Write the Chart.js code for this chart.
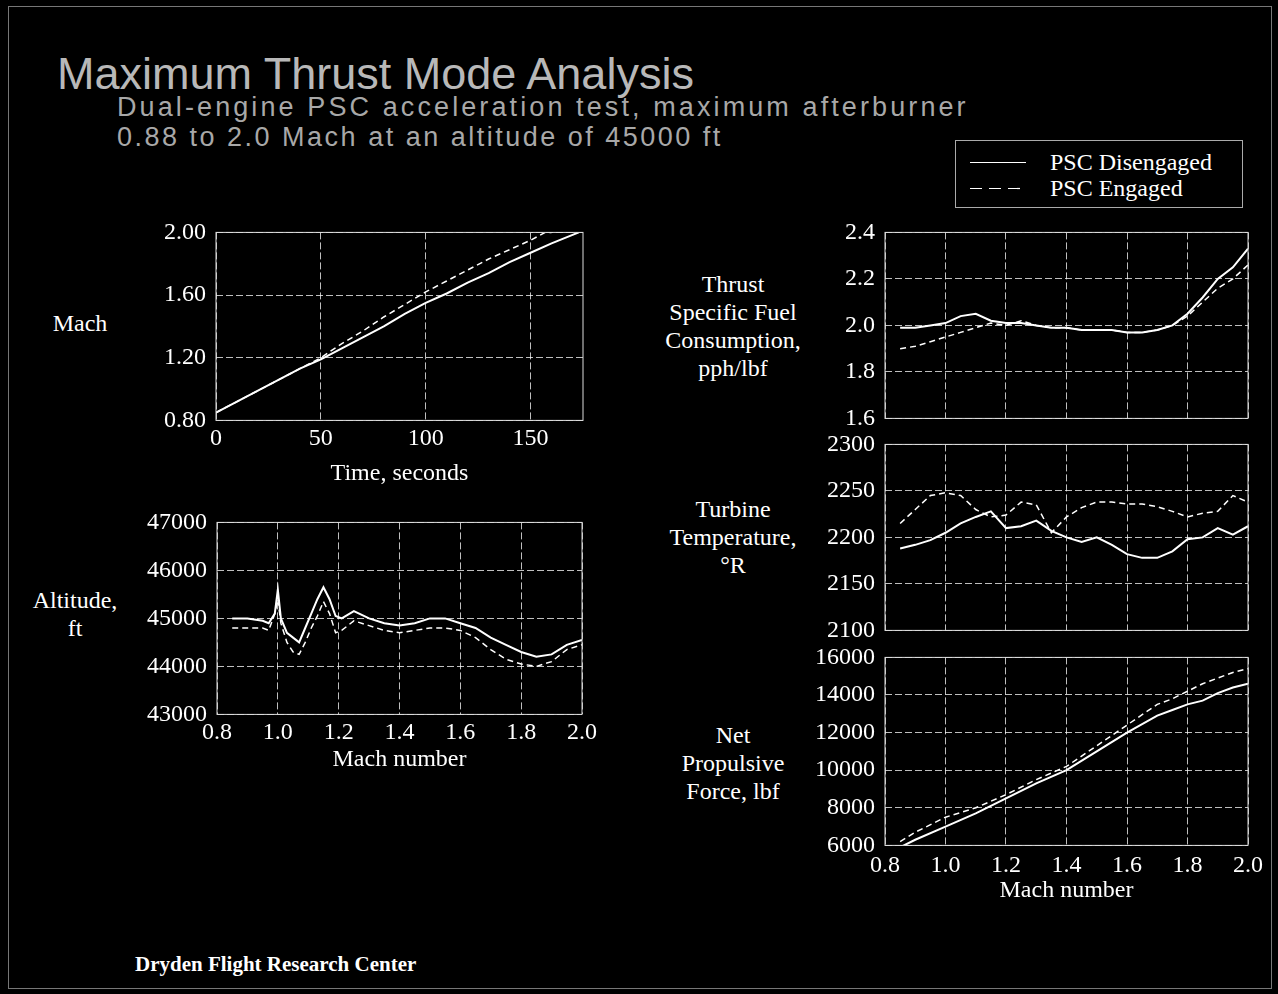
<!DOCTYPE html>
<html>
<head>
<meta charset="utf-8">
<script src="https://cdn.jsdelivr.net/npm/chart.js"></script>
<style>
  body { margin: 0; background: #000; width: 1278px; height: 994px; overflow: hidden; position: relative; }
  .frame { position: absolute; left: 8px; top: 6px; width: 1264px; height: 983px; border: 1px solid #777; box-sizing: border-box; }
  .title { position: absolute; left: 57px; top: 48px; font: 45px 'Liberation Sans', sans-serif; color: #b8b8b8; white-space: nowrap; }
  .sub { position: absolute; left: 117px; font: 27px 'Liberation Sans', sans-serif; color: #a8a8a8; white-space: nowrap; }
  .lbl { position: absolute; font: 24px 'Liberation Serif', serif; color: #fff; text-align: center; line-height: 28px; white-space: nowrap; transform: translateX(-50%); }
  .box { position: absolute; }
  .legend { position: absolute; left: 955px; top: 140px; width: 288px; height: 68px; border: 1px solid #aaa; box-sizing: border-box; }
  .legend .row { position: absolute; left: 14px; height: 26px; font: 24px 'Liberation Serif', serif; color: #fff; white-space: nowrap; }
  .legend svg { position: absolute; left: 0; top: 12px; }
  .legend .tx { position: absolute; left: 80px; top: 0; }
  .footer { position: absolute; left: 135px; top: 952px; font: bold 21px 'Liberation Serif', serif; color: #fff; }
</style>
</head>
<body>
<div class="frame"></div>
<div class="title">Maximum Thrust Mode Analysis</div>
<div class="sub" style="top:92px;letter-spacing:3.1px">Dual-engine PSC acceleration test, maximum afterburner</div>
<div class="sub" style="top:122px;letter-spacing:2.5px">0.88 to 2.0 Mach at an altitude of 45000 ft</div>

<div class="legend">
  <div class="row" style="top:8px"><svg width="56" height="3"><line x1="0" y1="1.5" x2="56" y2="1.5" stroke="#fff" stroke-width="1.2"/></svg><div class="tx">PSC Disengaged</div></div>
  <div class="row" style="top:34px"><svg width="56" height="3"><line x1="0" y1="1.5" x2="56" y2="1.5" stroke="#fff" stroke-width="1.2" stroke-dasharray="12 7"/></svg><div class="tx">PSC Engaged</div></div>
</div>

<div class="lbl" style="left:80px;top:309px">Mach</div>
<div class="lbl" style="left:75px;top:586px">Altitude,<br>ft</div>
<div class="lbl" style="left:733px;top:270px">Thrust<br>Specific Fuel<br>Consumption,<br>pph/lbf</div>
<div class="lbl" style="left:733px;top:495px">Turbine<br>Temperature,<br>°R</div>
<div class="lbl" style="left:733px;top:721px">Net<br>Propulsive<br>Force, lbf</div>

<div class="box" id="b1"><canvas id="c1"></canvas></div>
<div class="box" id="b2"><canvas id="c2"></canvas></div>
<div class="box" id="b3"><canvas id="c3"></canvas></div>
<div class="box" id="b4"><canvas id="c4"></canvas></div>
<div class="box" id="b5"><canvas id="c5"></canvas></div>

<div class="footer">Dryden Flight Research Center</div>

<script>
// Mach vs time
const timeDis = [0, 10, 20, 30, 40, 50, 60, 70, 80, 90, 100, 110, 120, 130, 140, 150, 160, 173];
const machDis = [0.85, 0.92, 0.99, 1.06, 1.13, 1.19, 1.26, 1.33, 1.40, 1.48, 1.55, 1.61, 1.68, 1.74, 1.81, 1.87, 1.93, 2.00];
const timeEng = [0, 10, 20, 30, 40, 50, 60, 70, 80, 90, 100, 110, 120, 130, 140, 150, 157, 160];
const machEng = [0.85, 0.92, 0.99, 1.06, 1.13, 1.20, 1.29, 1.37, 1.46, 1.54, 1.62, 1.69, 1.76, 1.83, 1.89, 1.95, 2.00, 2.00];
const timeTicks = [0, 50, 100, 150];

// Altitude vs Mach
const machAlt = [0.85, 0.9, 0.95, 0.97, 0.99, 1.0, 1.01, 1.03, 1.05, 1.07, 1.09, 1.11, 1.13, 1.15, 1.17, 1.19, 1.21, 1.25, 1.3, 1.35, 1.4, 1.45, 1.5, 1.55, 1.6, 1.65, 1.7, 1.75, 1.8, 1.85, 1.9, 1.95, 2.0];
const altDis = [45000, 45000, 44950, 44900, 45100, 45600, 45000, 44700, 44600, 44500, 44800, 45100, 45400, 45650, 45400, 45050, 45000, 45150, 45000, 44900, 44850, 44900, 45000, 45000, 44900, 44800, 44600, 44450, 44300, 44200, 44250, 44450, 44550];
const altEng = [44800, 44800, 44800, 44750, 45100, 45400, 44900, 44500, 44300, 44250, 44500, 44800, 45050, 45350, 45100, 44700, 44750, 44950, 44850, 44750, 44700, 44750, 44800, 44800, 44750, 44600, 44350, 44150, 44050, 44000, 44100, 44350, 44450];

// TSFC and turbine temperature vs Mach
const machT = [0.85, 0.9, 0.95, 1.0, 1.05, 1.1, 1.15, 1.2, 1.25, 1.3, 1.35, 1.4, 1.45, 1.5, 1.55, 1.6, 1.65, 1.7, 1.75, 1.8, 1.85, 1.9, 1.95, 2.0];
const tsfcDis = [1.99, 1.99, 2.00, 2.01, 2.04, 2.05, 2.02, 2.01, 2.01, 2.00, 1.99, 1.99, 1.98, 1.98, 1.98, 1.97, 1.97, 1.98, 2.00, 2.05, 2.12, 2.20, 2.25, 2.33];
const tsfcEng = [1.90, 1.91, 1.93, 1.95, 1.97, 1.99, 2.01, 2.00, 2.02, 2.00, 1.99, 1.99, 1.98, 1.98, 1.98, 1.97, 1.97, 1.98, 2.00, 2.04, 2.10, 2.16, 2.20, 2.26];
const ttDis = [2188, 2192, 2197, 2205, 2215, 2222, 2228, 2210, 2212, 2218, 2207, 2200, 2195, 2200, 2192, 2182, 2178, 2178, 2185, 2198, 2200, 2210, 2203, 2212];
const ttEng = [2215, 2230, 2245, 2248, 2245, 2230, 2222, 2224, 2238, 2235, 2205, 2222, 2232, 2238, 2238, 2236, 2236, 2233, 2228, 2222, 2226, 2228, 2245, 2238];

// Net propulsive force vs Mach
const machF = [0.85, 0.9, 1.0, 1.1, 1.2, 1.3, 1.4, 1.5, 1.6, 1.7, 1.75, 1.8, 1.85, 1.9, 1.95, 2.0];
const forceDis = [5900, 6300, 7000, 7700, 8500, 9300, 10000, 11000, 12000, 12900, 13200, 13500, 13700, 14100, 14400, 14600];
const forceEng = [6200, 6700, 7500, 8000, 8700, 9500, 10200, 11300, 12400, 13500, 13800, 14200, 14600, 14900, 15200, 15400];

Chart.defaults.animation = false;
Chart.defaults.color = '#fff';
Chart.defaults.font.family = "'Liberation Serif', serif";

const Y_W = 100;     // room for y tick labels
const PAD = 14;

const boxPlugin = {
    id: 'box',
    afterDatasetsDraw(chart) {
        const a = chart.chartArea, ctx = chart.ctx;
        ctx.save();
        ctx.strokeStyle = '#ddd';
        ctx.lineWidth = 1;
        ctx.strokeRect(a.left, a.top, a.right - a.left, a.bottom - a.top);
        ctx.restore();
    }
};

const pts = (xs, ys) => xs.map((x, i) => ({ x, y: ys[i] }));

function makeChart(id, p) {
    const showX = !!p.xTitle;
    const xH = showX ? (p.xH || 64) : 0;
    const box = document.getElementById('b' + id);
    let bl = p.left - Y_W, bt = p.top - PAD;
    let bw = Y_W + p.w + 22, bh = PAD + p.h + (showX ? xH : PAD);
    const place = () => {
        box.style.left = bl + 'px'; box.style.top = bt + 'px';
        box.style.width = bw + 'px'; box.style.height = bh + 'px';
    };
    place();

    const grid = { color: 'rgba(255,255,255,0.75)', lineWidth: 1, drawTicks: false };
    const border = { display: false, dash: [7, 3] };
    const chart = new Chart(document.getElementById('c' + id), {
        type: 'line',
        data: {
            datasets: [
                { label: 'PSC Disengaged', data: pts(p.x1, p.y1), borderColor: '#fff', borderWidth: 2, pointRadius: 0, tension: 0 },
                { label: 'PSC Engaged', data: pts(p.x2, p.y2), borderColor: '#fff', borderWidth: 1.5, borderDash: [6, 4], pointRadius: 0, tension: 0 }
            ]
        },
        options: {
            responsive: true,
            maintainAspectRatio: false,
            layout: { padding: { top: PAD, right: 22, bottom: showX ? 0 : PAD, left: 0 } },
            plugins: { legend: { display: false }, tooltip: { enabled: false } },
            scales: {
                x: {
                    type: 'linear', min: p.xMin, max: p.xMax,
                    grid, border,
                    ticks: { display: showX, stepSize: p.xStep, padding: p.xPad || 4, font: { size: 24 }, maxRotation: 0, autoSkip: false, callback: p.xFmt },
                    title: { display: showX, text: p.xTitle || '', font: { size: 24 }, padding: { top: 0, bottom: 4 } },
                    afterBuildTicks: p.xTicks ? s => { s.ticks = p.xTicks.map(v => ({ value: v })); } : undefined,
                    afterFit: s => { s.height = xH; }
                },
                y: {
                    min: p.yMin, max: p.yMax,
                    grid, border,
                    ticks: { stepSize: p.yStep, padding: 10, font: { size: 24 }, autoSkip: false, callback: p.yFmt },
                    afterFit: s => { s.width = Y_W; }
                }
            }
        },
        plugins: [boxPlugin]
    });

    // pin the plot area to where it sits in the original figure
    const a = chart.chartArea;
    bl = p.left - a.left;
    bt = p.top - a.top;
    bw = a.left + p.w + (bw - a.right);
    bh = a.top + p.h + (bh - a.bottom);
    place();
    chart.resize();
}

const mFmt = v => v.toFixed(1);
const intFmt = v => String(v);

makeChart(1, { left: 216, top: 232, w: 367, h: 188, x1: timeDis, y1: machDis, x2: timeEng, y2: machEng,
    xMin: 0, xMax: 175, xStep: 50, xTicks: timeTicks, xFmt: intFmt, xTitle: 'Time, seconds', xH: 72,
    yMin: 0.8, yMax: 2.0, yStep: 0.4, yFmt: v => v.toFixed(2) });
makeChart(2, { left: 217, top: 522, w: 365, h: 192, x1: machAlt, y1: altDis, x2: machAlt, y2: altEng,
    xMin: 0.8, xMax: 2.0, xStep: 0.2, xFmt: mFmt, xTitle: 'Mach number', xH: 64,
    yMin: 43000, yMax: 47000, yStep: 1000, yFmt: intFmt });
makeChart(3, { left: 885, top: 232, w: 363, h: 186, x1: machT, y1: tsfcDis, x2: machT, y2: tsfcEng,
    xMin: 0.8, xMax: 2.0, xStep: 0.2, xFmt: mFmt,
    yMin: 1.6, yMax: 2.4, yStep: 0.2, yFmt: mFmt });
makeChart(4, { left: 885, top: 444, w: 363, h: 186, x1: machT, y1: ttDis, x2: machT, y2: ttEng,
    xMin: 0.8, xMax: 2.0, xStep: 0.2, xFmt: mFmt,
    yMin: 2100, yMax: 2300, yStep: 50, yFmt: intFmt });
makeChart(5, { left: 885, top: 657, w: 363, h: 188, x1: machF, y1: forceDis, x2: machF, y2: forceEng,
    xMin: 0.8, xMax: 2.0, xStep: 0.2, xFmt: mFmt, xTitle: 'Mach number', xH: 64, xPad: 6,
    yMin: 6000, yMax: 16000, yStep: 2000, yFmt: intFmt });
</script>
</body>
</html>
